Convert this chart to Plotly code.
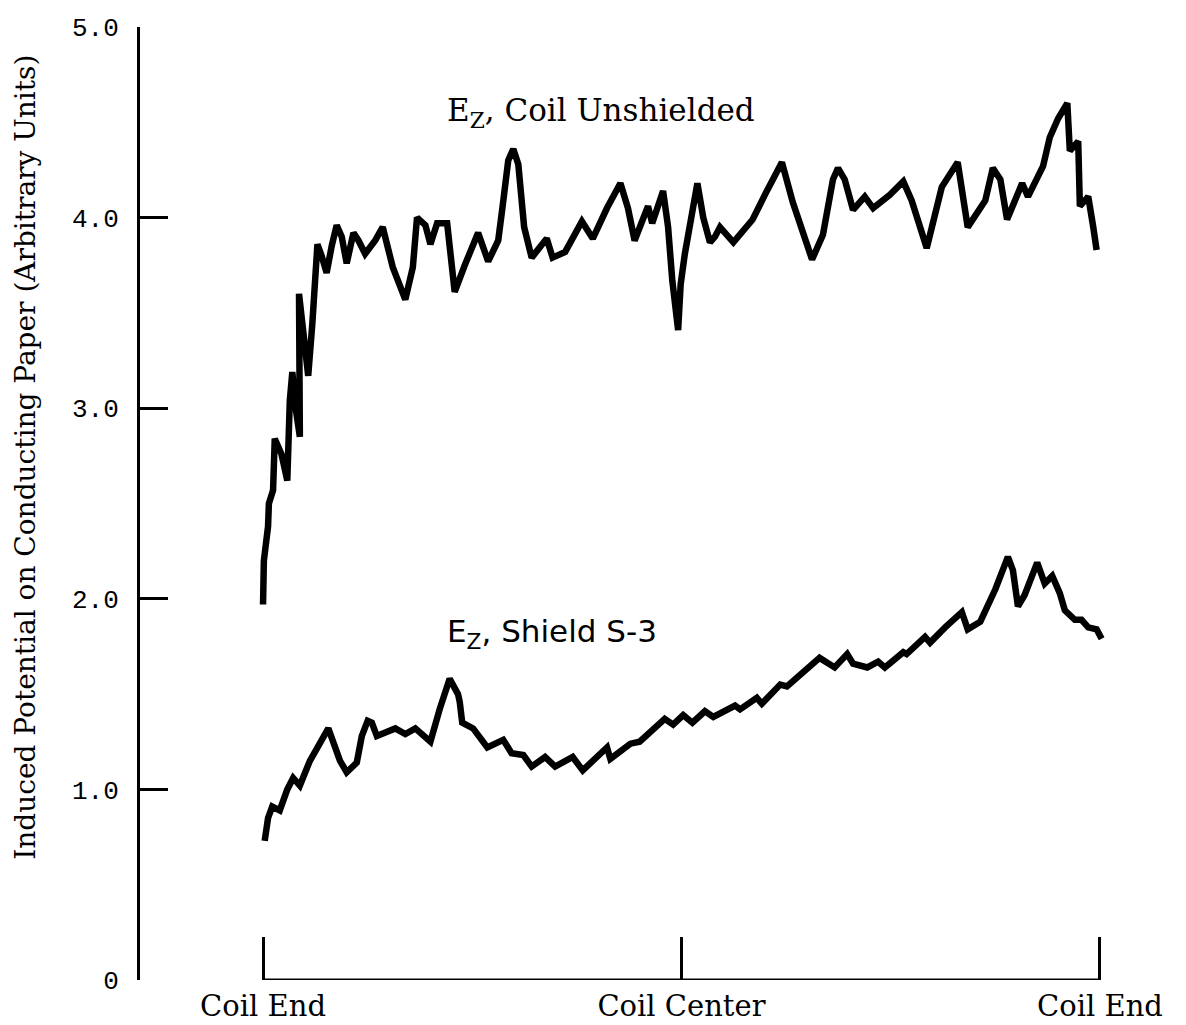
import plotly.graph_objects as go

# Position along coil (% of length: 0 = coil end, 50 = coil center, 100 = coil end)
x_unshielded = [0.0, 0.1, 0.6, 0.7, 1.2, 1.4, 2.2, 2.9, 3.2, 3.5, 3.9, 4.4, 4.3, 4.9, 5.4, 5.9,
                6.5, 7.0, 7.6, 8.2, 8.8, 9.4, 10.0, 10.8, 11.4, 12.2, 13.4, 14.3, 14.9, 15.5,
                17.0, 17.9, 18.4, 19.4, 20.0, 20.8, 22.0, 22.9, 24.1, 25.7, 26.9, 28.1, 28.6,
                29.3, 29.9, 30.5, 31.2, 32.1, 33.9, 34.6, 36.1, 38.1, 39.4, 41.1, 42.7, 43.6,
                44.4, 46.0, 46.5, 47.8, 48.4, 48.9, 49.6, 49.9, 50.4, 51.9, 52.6, 53.4, 54.0,
                54.6, 56.2, 58.5, 60.2, 62.0, 63.3, 65.6, 66.9, 68.1, 68.7, 69.5, 70.5, 71.9,
                72.9, 74.9, 76.5, 77.5, 79.3, 81.1, 83.0, 84.2, 86.3, 87.2, 88.1, 88.9, 90.7,
                91.4, 93.2, 94.0, 95.0, 96.1, 96.4, 97.4, 97.6, 98.6, 99.2, 99.6]
y_unshielded = [1.97, 2.20, 2.38, 2.50, 2.57, 2.84, 2.76, 2.62, 3.04, 3.19, 3.00, 2.85, 3.60, 3.40,
                3.17, 3.45, 3.86, 3.80, 3.71, 3.85, 3.96, 3.90, 3.76, 3.92, 3.88, 3.81, 3.88,
                3.95, 3.85, 3.74, 3.57, 3.74, 4.00, 3.96, 3.86, 3.97, 3.97, 3.61, 3.75, 3.92,
                3.77, 3.88, 4.05, 4.30, 4.36, 4.28, 3.95, 3.79, 3.89, 3.79, 3.82, 3.98, 3.89,
                4.05, 4.18, 4.05, 3.88, 4.06, 3.97, 4.14, 3.95, 3.67, 3.41, 3.65, 3.81, 4.18,
                4.00, 3.87, 3.90, 3.95, 3.87, 3.99, 4.14, 4.29, 4.08, 3.78, 3.91, 4.20, 4.26,
                4.20, 4.04, 4.11, 4.05, 4.12, 4.19, 4.09, 3.84, 4.16, 4.29, 3.95, 4.09, 4.26,
                4.20, 3.99, 4.18, 4.11, 4.27, 4.42, 4.52, 4.60, 4.35, 4.40, 4.06, 4.11, 3.95,
                3.83]

x_shield = [0.2, 0.6, 1.1, 2.0, 2.9, 3.6, 4.4, 5.6, 7.8, 9.2, 10.0, 11.2, 11.8, 12.5, 13.0, 13.6,
            15.8, 17.0, 18.2, 20.0, 21.1, 22.3, 23.3, 23.5, 23.8, 25.1, 26.8, 28.7, 29.7, 31.1,
            32.1, 33.7, 34.9, 37.0, 38.2, 39.7, 41.1, 41.5, 43.9, 45.0, 46.2, 48.0, 49.0, 50.2,
            51.3, 52.8, 53.8, 56.4, 57.0, 59.0, 59.6, 61.8, 62.6, 66.5, 68.3, 69.8, 70.5, 72.2,
            73.5, 74.3, 76.5, 76.9, 79.1, 79.7, 81.5, 83.5, 84.2, 85.7, 87.5, 89.0, 89.6, 90.2,
            91.0, 92.5, 93.4, 94.3, 95.2, 95.8, 97.0, 97.8, 98.6, 99.6, 100.2]
y_shield = [0.73, 0.85, 0.91, 0.89, 1.00, 1.06, 1.02, 1.15, 1.32, 1.15, 1.09, 1.14, 1.28, 1.36,
            1.35, 1.28, 1.32, 1.29, 1.32, 1.25, 1.42, 1.58, 1.50, 1.46, 1.35, 1.32, 1.22, 1.26,
            1.19, 1.18, 1.12, 1.17, 1.12, 1.17, 1.10, 1.16, 1.22, 1.16, 1.24, 1.25, 1.30, 1.37,
            1.34, 1.39, 1.35, 1.41, 1.38, 1.44, 1.42, 1.48, 1.45, 1.55, 1.54, 1.69, 1.64, 1.71,
            1.66, 1.64, 1.67, 1.64, 1.72, 1.71, 1.80, 1.77, 1.85, 1.93, 1.84, 1.88, 2.05, 2.22,
            2.15, 1.96, 2.02, 2.19, 2.08, 2.12, 2.03, 1.94, 1.89, 1.89, 1.85, 1.84, 1.79]

x_tickvals = [0, 50, 100]
x_ticktext = ["Coil End", "Coil Center", "Coil End"]
y_tickvals = [0, 1, 2, 3, 4, 5]
y_ticktext = ["0", "1.0", "2.0", "3.0", "4.0", "5.0"]

SERIF = "DejaVu Serif"

fig = go.Figure()
fig.add_trace(go.Scatter(x=x_unshielded, y=y_unshielded, mode="lines",
                         line=dict(color="black", width=6.5), showlegend=False))
fig.add_trace(go.Scatter(x=x_shield, y=y_shield, mode="lines",
                         line=dict(color="black", width=6.5), showlegend=False))

# x baseline running from coil end to coil end
fig.add_shape(type="line", xref="x", yref="y", x0=x_tickvals[0], x1=x_tickvals[-1], y0=0, y1=0,
              line=dict(color="black", width=3))

fig.add_annotation(x=21.7, y=4.55, xref="x", yref="y", xanchor="left", yanchor="middle",
                   text="E<sub>Z</sub>, Coil Unshielded", showarrow=False,
                   font=dict(family=SERIF, size=31, color="black"))
fig.add_annotation(x=21.7, y=1.82, xref="x", yref="y", xanchor="left", yanchor="middle",
                   text="E<sub>Z</sub>, Shield S-3", showarrow=False,
                   font=dict(family="DejaVu Sans", size=31, color="black"))
fig.add_annotation(x=-0.1175, y=0.548, xref="paper", yref="paper", textangle=-90,
                   text="Induced Potential on Conducting Paper (Arbitrary Units)",
                   showarrow=False, xanchor="center", yanchor="middle",
                   font=dict(family=SERIF, size=28, color="black"))

fig.update_layout(
    width=1186, height=1025,
    margin=dict(l=132, r=84, t=19, b=53),
    plot_bgcolor="white", paper_bgcolor="white",
    xaxis=dict(range=[-14.7, 101.2], showline=False, showgrid=False, zeroline=False,
               tickmode="array", tickvals=x_tickvals, ticktext=x_ticktext,
               ticks="inside", ticklen=43, tickwidth=3, tickcolor="black",
               ticklabelstandoff=6,
               tickfont=dict(family=SERIF, size=29, color="black"), automargin=False),
    yaxis=dict(range=[0, 5], showline=True, linecolor="black", linewidth=3,
               showgrid=False, zeroline=False,
               tickmode="array", tickvals=y_tickvals, ticktext=y_ticktext,
               ticks="inside", ticklen=28, tickwidth=3, tickcolor="black",
               ticklabelstandoff=13,
               tickfont=dict(family="Liberation Mono", size=26, color="black"), automargin=False),
)

fig.write_html("out.html")
